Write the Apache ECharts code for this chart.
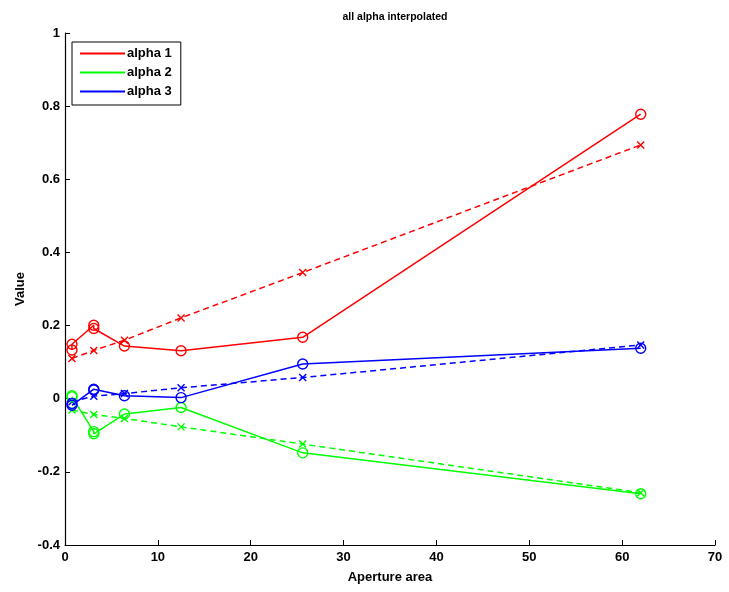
<!DOCTYPE html>
<html>
<head>
<meta charset="utf-8">
<script src="https://cdn.jsdelivr.net/npm/echarts@6/dist/echarts.min.js"></script>
<style>html,body{margin:0;padding:0;background:#fff}#c{width:729px;height:592px}</style>
</head>
<body>
<div id="c"></div>
<script>
// Measured (solid, circles): first two apertures have two samples each
var xMeasured = [0.75, 0.75, 3.1, 3.1, 6.4, 12.5, 25.6, 62.0];
var alpha1Measured = [0.133, 0.149, 0.201, 0.192, 0.144, 0.131, 0.168, 0.778];
var alpha2Measured = [0.005, 0.008, -0.090, -0.096, -0.042, -0.024, -0.148, -0.260];
var alpha3Measured = [-0.018, -0.013, 0.026, 0.024, 0.008, 0.003, 0.095, 0.138];
// Interpolated (dashed, x markers)
var xInterp = [0.75, 3.1, 6.4, 12.5, 25.6, 62.0];
var alpha1Interp = [0.110, 0.132, 0.160, 0.221, 0.345, 0.694];
var alpha2Interp = [-0.031, -0.043, -0.054, -0.077, -0.124, -0.257];
var alpha3Interp = [-0.008, 0.007, 0.014, 0.030, 0.058, 0.147];
var yTicks = [-0.4, -0.2, 0, 0.2, 0.4, 0.6, 0.8, 1];
var names = ['alpha 1', 'alpha 2', 'alpha 3'];
var colors = ['#ff0000', '#00ff00', '#0000ff'];

function pairs(xs, ys) { return xs.map(function (x, i) { return [x, ys[i]]; }); }
var measured = [alpha1Measured, alpha2Measured, alpha3Measured];
var interp = [alpha1Interp, alpha2Interp, alpha3Interp];
var xMark = 'path://M0,0L10,10M10,0L0,10';
var series = [];
for (var i = 0; i < 3; i++) {
  series.push({
    name: names[i], type: 'line', data: pairs(xMeasured, measured[i]),
    symbol: 'circle', symbolSize: 10,
    itemStyle: { color: 'rgba(0,0,0,0)', borderColor: colors[i], borderWidth: 1.4 },
    lineStyle: { color: colors[i], width: 1.5 }, z: 3
  });
  series.push({
    name: names[i] + ' interp', type: 'line', data: pairs(xInterp, interp[i]),
    symbol: xMark, symbolSize: 7,
    itemStyle: { color: 'rgba(0,0,0,0)', borderColor: colors[i], borderWidth: 1.4 },
    lineStyle: { color: colors[i], width: 1.5, type: [6, 4] }, z: 2
  });
}
var font = 'Liberation Sans, Arial, sans-serif';
var chart = echarts.init(document.getElementById('c'), null, { renderer: 'canvas' });
chart.setOption({
  animation: false,
  backgroundColor: '#fff',
  title: {
    text: 'all alpha interpolated', left: 390, textAlign: 'center', top: 7,
    textStyle: { fontSize: 10.5, fontWeight: 'bold', color: '#000', fontFamily: font }
  },
  legend: {
    left: 72, top: 42, orient: 'vertical',
    data: names.map(function (n, i) {
      return { name: n, icon: 'rect', itemStyle: { color: colors[i], borderWidth: 0 } };
    }),
    itemWidth: 45, itemHeight: 2, itemGap: 6,
    padding: [5, 9, 7, 8],
    backgroundColor: '#fff', borderColor: '#000', borderWidth: 1,
    selectedMode: false,
    textStyle: { fontSize: 13, fontWeight: 'bold', color: '#000', fontFamily: font, padding: [0, 0, 0, -3] }
  },
  grid: { left: 65, right: 14, top: 33, bottom: 47, containLabel: false },
  xAxis: {
    type: 'value', min: 0, max: 70, interval: 10,
    name: 'Aperture area', nameLocation: 'middle', nameGap: 26,
    nameTextStyle: { fontSize: 13, fontWeight: 'bold', color: '#000', fontFamily: font },
    axisLine: { show: true, onZero: false, lineStyle: { color: '#000', width: 1.2 } },
    axisTick: { show: true, inside: true, length: 5, lineStyle: { color: '#000' } },
    axisLabel: { fontSize: 13, fontWeight: 'bold', color: '#000', fontFamily: font, margin: 6 },
    splitLine: { show: false }
  },
  yAxis: {
    type: 'value', min: -0.4, max: 1, interval: 0.2,
    name: 'Value', nameLocation: 'middle', nameGap: 38, nameRotate: 90,
    nameTextStyle: { fontSize: 13, fontWeight: 'bold', color: '#000', fontFamily: font },
    axisLine: { show: true, onZero: false, lineStyle: { color: '#000', width: 1.2 } },
    axisTick: { show: true, inside: true, length: 5, lineStyle: { color: '#000' } },
    axisLabel: {
      fontSize: 13, fontWeight: 'bold', color: '#000', fontFamily: font, margin: 5,
      formatter: function (v) {
        var best = yTicks.reduce(function (a, b) { return Math.abs(b - v) < Math.abs(a - v) ? b : a; });
        return String(best);
      }
    },
    splitLine: { show: false }
  },
  series: series
});
</script>
</body>
</html>
